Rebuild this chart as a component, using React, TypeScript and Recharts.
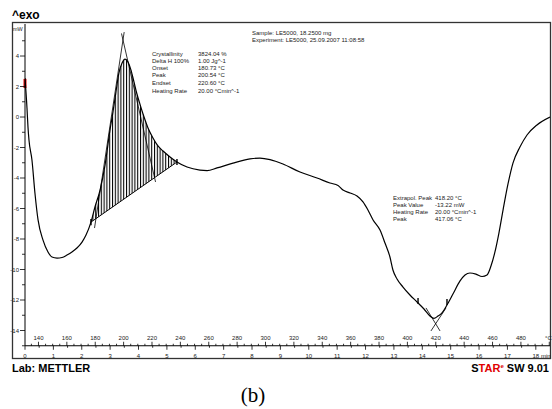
import React from 'react';
import {
  ComposedChart,
  Line,
  Area,
  XAxis,
  YAxis,
  ReferenceLine,
} from 'recharts';

// DSC curve, temperature (°C) vs heat flow (mW)
const temperature = [
  130.5, 131.9, 132.6, 133.3, 135.4, 137.5, 139.7, 143.2, 146.7, 149.5, 153.1, 156.6, 160.1, 163.6,
  167.1, 170.7, 173.5, 177.0, 179.8, 183.4, 186.9, 190.4, 192.5, 194.6, 196.7, 198.9, 201.0, 203.1,
  205.2, 207.3, 209.4, 211.5, 214.4, 217.2, 220.7, 224.2, 227.8, 232.7, 237.6, 244.7, 253.8, 258.8,
  265.8, 277.1, 289.1, 296.1, 303.2, 312.3, 324.3, 336.3, 345.4, 351.1, 354.6, 359.6, 364.5, 368.7,
  372.2, 375.8, 380.7, 384.2, 387.7, 389.8, 392.7, 396.9, 401.8, 406.8, 411.7, 415.9, 418.7, 421.6,
  424.4, 427.9, 432.1, 437.1, 440.6, 444.1, 448.3, 452.6, 456.1, 458.9, 461.7, 464.5, 467.4, 470.9,
  474.4, 479.3, 484.3, 491.3, 500.5,
];
const heatFlow = [
  2.56, 0.59, -0.66, -1.51, -2.82, -4.98, -6.75, -8.07, -8.85, -9.18, -9.25, -9.21, -9.05, -8.85,
  -8.59, -8.2, -7.74, -6.89, -5.9, -4.79, -3.15, -0.85, 0.33, 1.64, 2.89, 3.54, 3.8, 3.61,
  3.08, 2.3, 1.51, 0.85, 0.0, -0.72, -1.38, -1.9, -2.23, -2.62, -2.95, -3.28, -3.48, -3.51,
  -3.34, -3.02, -2.75, -2.69, -2.79, -3.08, -3.61, -4.0, -4.33, -4.49, -4.79, -4.98, -5.18, -5.57,
  -6.1, -6.75, -7.41, -8.26, -9.18, -10.03, -10.62, -11.15, -11.67, -12.13, -12.59, -13.05, -13.21, -13.05,
  -12.85, -12.33, -11.61, -10.75, -10.36, -10.23, -10.3, -10.46, -10.36, -9.77, -8.85, -7.61, -6.1, -4.39,
  -3.02, -1.97, -1.18, -0.52, 0.0,
];

// integration limits of the crystallisation peak (T, mW)
const integLimits = [
  [177.0, -6.89],
  [237.6, -2.95],
];

// construction lines: [[T1, v1], [T2, v2]]
const tangents = [
  [[179.5, -7.28], [200.4, 5.57]],
  [[198.5, 5.48], [222.5, -4.26]],
  [[413.1, -12.52], [423.0, -14.03]],
  [[427.2, -12.52], [416.6, -14.03]],
];
const markerTemps = [177.0, 237.6, 407.5, 427.9];
const markerValues = [-6.89, -2.95, -12.07, -12.13];

const tempTicks = Array.from({ length: 74 }, (_, i) => 135 + i * 5);
const timeTicks = Array.from({ length: 37 }, (_, i) => i * 0.5);
const yTicks = [-15, -14, -13, -12, -11, -10, -9, -8, -7, -6, -5, -4, -3, -2, -1, 0, 1, 2, 3, 4, 5];

const block1Labels = ['Crystallinity', 'Delta H 100%', 'Onset', 'Peak', 'Endset', 'Heating Rate'];
const block1Values = ['3824.04 %', '1.00 Jg^-1', '180.73 °C', '200.54 °C', '220.60 °C', '20.00 °Cmin^-1'];
const block2Labels = ['Extrapol. Peak', 'Peak Value', 'Heating Rate', 'Peak'];
const block2Values = ['418.20 °C', '-13.22 mW', '20.00 °Cmin^-1', '417.06 °C'];

const FONT = '"Liberation Sans", Arial, sans-serif';
const AXIS_Y = 345.75;
const AXIS_X = 25;

const curveData = temperature.map((T, i) => ({ T, v: heatFlow[i] }));

const [s, e] = integLimits;
const baseAt = (T: number) => s[1] + ((T - s[0]) * (e[1] - s[1])) / (e[0] - s[0]);
const bandData = curveData
  .filter((d) => d.T >= s[0] && d.T <= e[0])
  .map((d) => ({ T: d.T, band: [baseAt(d.T), d.v] }));
const baselineData = integLimits.map(([T, v]) => ({ T, base: v }));

const TempTick = (props: any) => {
  const { x, payload } = props;
  const val = payload.value;
  const major = val % 20 === 0;
  return (
    <g>
      <line x1={x} x2={x} y1={AXIS_Y} y2={AXIS_Y - (major ? 4 : 2)} stroke="#000" strokeWidth={0.8} />
      {major && val < 500 && (
        <text x={x} y={AXIS_Y - 6} textAnchor="middle" fontSize={6} fontFamily={FONT} fill="#222">
          {val}
        </text>
      )}
    </g>
  );
};

const TimeTick = (props: any) => {
  const { x, payload } = props;
  const val = payload.value;
  const major = Number.isInteger(val);
  return (
    <g>
      <line x1={x} x2={x} y1={AXIS_Y} y2={AXIS_Y + (major ? 4 : 2)} stroke="#000" strokeWidth={0.8} />
      {major && (
        <text x={x} y={AXIS_Y + 12} textAnchor="middle" fontSize={6} fontFamily={FONT} fill="#222">
          {val}
        </text>
      )}
    </g>
  );
};

const YTick = (props: any) => {
  const { y, payload } = props;
  const val = payload.value;
  const major = val % 2 === 0;
  return (
    <g>
      <line x1={AXIS_X - (major ? 5 : 3)} x2={AXIS_X} y1={y} y2={y} stroke="#000" strokeWidth={0.8} />
      {major && (
        <text x={AXIS_X - 6} y={y + 2} textAnchor="end" fontSize={6} fontFamily={FONT} fill="#222">
          {val}
        </text>
      )}
    </g>
  );
};

const App: React.FC = () => {
  return (
    <div style={{ position: 'absolute', left: 0, top: 0, width: 552, height: 409, background: '#fff' }}>
      <ComposedChart width={552} height={409} data={curveData} margin={{ top: 24, right: 2, bottom: 51.25, left: 0 }}>
        <defs>
          <pattern id="hatch" patternUnits="userSpaceOnUse" width={2.8} height={4}>
            <line x1={0.5} y1={0} x2={0.5} y2={4} stroke="#000" strokeWidth={1.1} />
          </pattern>
        </defs>
        <XAxis
          xAxisId="T"
          dataKey="T"
          type="number"
          domain={[130.5, 500.5]}
          allowDataOverflow
          orientation="bottom"
          mirror
          height={12}
          ticks={tempTicks}
          interval={0}
          tick={<TempTick />}
          tickLine={false}
          axisLine={{ stroke: '#000', strokeWidth: 1 }}
        />
        <XAxis
          xAxisId="time"
          dataKey="time"
          type="number"
          domain={[0, 18.5]}
          allowDataOverflow
          orientation="bottom"
          height={12}
          ticks={timeTicks}
          interval={0}
          tick={<TimeTick />}
          tickLine={false}
          axisLine={false}
        />
        <YAxis
          yAxisId="v"
          type="number"
          domain={[-15, 6.1]}
          allowDataOverflow
          width={25}
          ticks={yTicks}
          interval={0}
          tick={<YTick />}
          tickLine={false}
          axisLine={{ stroke: '#000', strokeWidth: 1 }}
        />
        <Area
          xAxisId="T"
          yAxisId="v"
          data={bandData}
          dataKey="band"
          type="monotone"
          stroke="none"
          fill="url(#hatch)"
          fillOpacity={1}
          isAnimationActive={false}
        />
        <Line
          xAxisId="T"
          yAxisId="v"
          data={baselineData}
          dataKey="base"
          type="linear"
          stroke="#000"
          strokeWidth={1}
          dot={false}
          isAnimationActive={false}
        />
        {tangents.map((seg, i) => (
          <ReferenceLine
            key={`tan-${i}`}
            xAxisId="T"
            yAxisId="v"
            segment={[{ x: seg[0][0], y: seg[0][1] }, { x: seg[1][0], y: seg[1][1] }]}
            stroke="#000"
            strokeWidth={0.8}
            ifOverflow="visible"
          />
        ))}
        {markerTemps.map((T, i) => (
          <ReferenceLine
            key={`mk-${i}`}
            xAxisId="T"
            yAxisId="v"
            segment={[{ x: T, y: markerValues[i] - 0.2 }, { x: T, y: markerValues[i] + 0.2 }]}
            stroke="#000"
            strokeWidth={1.4}
            ifOverflow="visible"
          />
        ))}
        <ReferenceLine
          xAxisId="T"
          yAxisId="v"
          segment={[{ x: 130.5, y: 1.9 }, { x: 130.5, y: 2.5 }]}
          stroke="#e00000"
          strokeWidth={3}
          ifOverflow="visible"
        />
        <Line
          xAxisId="T"
          yAxisId="v"
          dataKey="v"
          type="monotone"
          stroke="#000"
          strokeWidth={1.2}
          dot={false}
          isAnimationActive={false}
        />
      </ComposedChart>

      <svg width={552} height={409} style={{ position: 'absolute', left: 0, top: 0, pointerEvents: 'none' }}>
        <rect x={12.5} y={22.5} width={538} height={336} fill="none" stroke="#333" strokeWidth={1.3} />
        <text x={12} y={19} fontSize={12} fontWeight="bold" fontFamily={FONT} fill="#000">^exo</text>
        <text x={13} y={31} fontSize={5.5} fontFamily={FONT} fill="#222">mW</text>

        <text x={252} y={35} fontSize={6} fontFamily={FONT} fill="#222">Sample: LE5000, 18.2500 mg</text>
        <text x={252} y={41.5} fontSize={6} fontFamily={FONT} fill="#222">Experiment: LE5000, 25.09.2007 11:08:58</text>

        {block1Labels.map((t, i) => (
          <text key={`b1l-${i}`} x={152} y={[55.5, 63, 70, 77, 85, 92.5][i]} fontSize={6} fontFamily={FONT} fill="#222">{t}</text>
        ))}
        {block1Values.map((t, i) => (
          <text key={`b1v-${i}`} x={198} y={[55.5, 63, 70, 77, 85, 92.5][i]} fontSize={6} fontFamily={FONT} fill="#222">{t}</text>
        ))}
        {block2Labels.map((t, i) => (
          <text key={`b2l-${i}`} x={393} y={200 + i * 7} fontSize={6} fontFamily={FONT} fill="#222">{t}</text>
        ))}
        {block2Values.map((t, i) => (
          <text key={`b2v-${i}`} x={435} y={200 + i * 7} fontSize={6} fontFamily={FONT} fill="#222">{t}</text>
        ))}

        <text x={545} y={340} fontSize={6} fontFamily={FONT} fill="#222">°C</text>
        <text x={541} y={AXIS_Y + 12} fontSize={6} fontFamily={FONT} fill="#222">min</text>

        <text x={12} y={372} fontSize={11} fontWeight="bold" fontFamily={FONT} fill="#000">Lab: METTLER</text>
        <text x={549} y={372} textAnchor="end" fontSize={11} fontWeight="bold" fontFamily={FONT}>
          <tspan fill="#000">S</tspan>
          <tspan fill="#e00000">TAR</tspan>
          <tspan fill="#e00000" fontSize={6} dy={-4}>e</tspan>
          <tspan fill="#000" dy={4}> SW 9.01</tspan>
        </text>
        <text x={253} y={402} textAnchor="middle" fontSize={21} fontFamily='"Liberation Serif", "Times New Roman", serif' fill="#000">(b)</text>
      </svg>
    </div>
  );
};

export default App;
